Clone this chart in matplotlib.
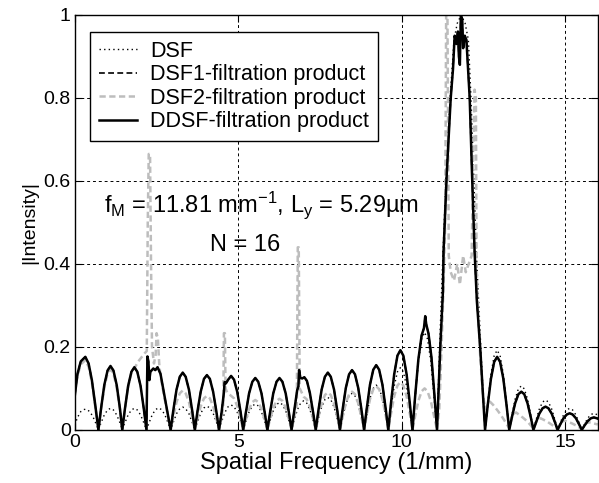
import matplotlib
matplotlib.use("Agg")
import matplotlib.pyplot as plt

plt.rcParams["font.family"] = ["Liberation Sans", "DejaVu Sans"]
plt.rcParams["mathtext.fontset"] = "custom"
plt.rcParams["mathtext.rm"] = "Liberation Sans"
plt.rcParams["mathtext.default"] = "regular"

# DDSF-filtration product (solid); DSF1 (dashed black) lies underneath it
ddsf_x = [0.00, 0.08, 0.18, 0.32, 0.42, 0.52, 0.62, 0.72,
          0.80, 0.90, 1.00, 1.09, 1.18, 1.28, 1.38, 1.45,
          1.53, 1.63, 1.73, 1.82, 1.91, 2.01, 2.11, 2.19,
          2.22, 2.25, 2.28, 2.31, 2.40, 2.46, 2.53, 2.62, 2.71, 2.83, 2.93,
          3.01, 3.11, 3.21, 3.30, 3.39, 3.49, 3.59, 3.67,
          3.75, 3.85, 3.95, 4.04, 4.13, 4.23, 4.33, 4.41,
          4.49, 4.56, 4.58, 4.62, 4.69, 4.78, 4.87, 4.97, 5.07, 5.15,
          5.23, 5.33, 5.43, 5.52, 5.61, 5.71, 5.81, 5.89,
          5.97, 6.07, 6.17, 6.26, 6.35, 6.45, 6.55, 6.63,
          6.71, 6.80, 6.84, 6.86, 6.90, 6.96, 7.02, 7.10, 7.19, 7.29, 7.37,
          7.45, 7.55, 7.65, 7.74, 7.83, 7.93, 8.03, 8.11,
          8.19, 8.29, 8.39, 8.48, 8.57, 8.67, 8.77, 8.85,
          8.93, 9.03, 9.13, 9.22, 9.31, 9.41, 9.51, 9.59,
          9.67, 9.77, 9.87, 9.96, 10.05, 10.15, 10.25, 10.33,
          10.41, 10.51, 10.61, 10.68, 10.72, 10.75, 10.82, 10.91, 11.00, 11.08,
          11.18, 11.26, 11.28, 11.38, 11.50, 11.57, 11.62, 11.68, 11.72, 11.75,
          11.78, 11.81, 11.85, 11.88, 11.93, 11.98, 12.08, 12.15, 12.23, 12.30,
          12.40, 12.55,
          12.63, 12.73, 12.83, 12.92, 13.01, 13.11, 13.21, 13.29,
          13.37, 13.47, 13.57, 13.66, 13.75, 13.85, 13.95, 14.03,
          14.11, 14.21, 14.31, 14.40, 14.49, 14.59, 14.69, 14.77,
          14.85, 14.95, 15.05, 15.14, 15.23, 15.33, 15.43, 15.51,
          15.59, 15.69, 15.79, 15.88, 15.97, 16.00]
ddsf_y = [0.084, 0.135, 0.165, 0.176, 0.160, 0.120, 0.062, 0.0,
          0.051, 0.108, 0.143, 0.154, 0.143, 0.108, 0.051, 0.0,
          0.050, 0.106, 0.140, 0.151, 0.140, 0.106, 0.050, 0.0,
          0.177, 0.165, 0.120, 0.140, 0.148, 0.144, 0.151, 0.135, 0.096, 0.045, 0.0,
          0.046, 0.097, 0.128, 0.138, 0.128, 0.097, 0.046, 0.0,
          0.044, 0.092, 0.123, 0.132, 0.123, 0.092, 0.044, 0.0,
          0.043, 0.090, 0.115, 0.112, 0.121, 0.130, 0.121, 0.091, 0.043, 0.0,
          0.041, 0.088, 0.116, 0.125, 0.116, 0.088, 0.041, 0.0,
          0.041, 0.088, 0.116, 0.125, 0.116, 0.088, 0.041, 0.0,
          0.045, 0.095, 0.105, 0.144, 0.125, 0.124, 0.127, 0.118, 0.089, 0.042, 0.0,
          0.046, 0.097, 0.128, 0.138, 0.128, 0.097, 0.046, 0.0,
          0.048, 0.101, 0.134, 0.144, 0.134, 0.101, 0.048, 0.0,
          0.051, 0.109, 0.145, 0.156, 0.145, 0.109, 0.051, 0.0,
          0.063, 0.134, 0.179, 0.192, 0.179, 0.134, 0.063, 0.0,
          0.080, 0.170, 0.228, 0.245, 0.274, 0.255, 0.232, 0.175, 0.085, 0.0,
          0.20, 0.33, 0.43, 0.62, 0.80, 0.87, 0.95, 0.93, 0.96, 0.90,
          0.88, 1.00, 0.99, 0.92, 0.95, 0.94, 0.80, 0.62, 0.43, 0.31,
          0.20, 0.0,
          0.058, 0.123, 0.164, 0.176, 0.164, 0.123, 0.058, 0.0,
          0.030, 0.064, 0.086, 0.092, 0.086, 0.064, 0.030, 0.0,
          0.018, 0.039, 0.052, 0.056, 0.052, 0.039, 0.018, 0.0,
          0.013, 0.028, 0.037, 0.040, 0.037, 0.028, 0.013, 0.0,
          0.010, 0.021, 0.028, 0.030, 0.028, 0.027]

# DSF (dotted)
dsf_x = [0.00, 0.08, 0.18, 0.28, 0.34, 0.44, 0.54, 0.64, 0.72,
         0.80, 0.90, 1.00, 1.09, 1.18, 1.28, 1.38, 1.45,
         1.53, 1.63, 1.73, 1.82, 1.91, 2.01, 2.11, 2.19,
         2.27, 2.37, 2.47, 2.56, 2.65, 2.75, 2.85, 2.93,
         3.01, 3.11, 3.21, 3.30, 3.39, 3.49, 3.59, 3.67,
         3.75, 3.85, 3.95, 4.04, 4.13, 4.23, 4.33, 4.41,
         4.49, 4.59, 4.69, 4.78, 4.87, 4.97, 5.07, 5.15,
         5.23, 5.33, 5.43, 5.52, 5.61, 5.71, 5.81, 5.89,
         5.97, 6.07, 6.17, 6.26, 6.35, 6.45, 6.55, 6.63,
         6.71, 6.81, 6.91, 7.00, 7.09, 7.19, 7.29, 7.37,
         7.45, 7.55, 7.65, 7.74, 7.83, 7.93, 8.03, 8.11,
         8.19, 8.29, 8.39, 8.48, 8.57, 8.67, 8.77, 8.85,
         8.93, 9.03, 9.13, 9.22, 9.31, 9.41, 9.51, 9.59,
         9.67, 9.77, 9.87, 9.96, 10.05, 10.15, 10.25, 10.33,
         10.41, 10.51, 10.61, 10.70, 10.79, 10.89, 10.99, 11.08,
         11.16, 11.25, 11.36, 11.48, 11.60, 11.70, 11.82, 11.94, 12.04, 12.12,
         12.20, 12.30, 12.42, 12.55,
         12.63, 12.73, 12.83, 12.92, 13.01, 13.11, 13.21, 13.29,
         13.37, 13.47, 13.57, 13.66, 13.75, 13.85, 13.95, 14.03,
         14.11, 14.21, 14.31, 14.40, 14.49, 14.59, 14.69, 14.77,
         14.85, 14.95, 15.05, 15.14, 15.23, 15.33, 15.43, 15.51,
         15.59, 15.69, 15.79, 15.88, 15.97, 16.00]
dsf_y = [0.012, 0.030, 0.044, 0.049, 0.050, 0.045, 0.034, 0.016, 0.0,
         0.017, 0.036, 0.048, 0.052, 0.048, 0.036, 0.017, 0.0,
         0.017, 0.036, 0.048, 0.052, 0.048, 0.036, 0.017, 0.0,
         0.017, 0.037, 0.049, 0.053, 0.049, 0.037, 0.017, 0.0,
         0.018, 0.039, 0.051, 0.055, 0.051, 0.039, 0.018, 0.0,
         0.019, 0.040, 0.053, 0.057, 0.053, 0.040, 0.019, 0.0,
         0.020, 0.042, 0.056, 0.060, 0.056, 0.042, 0.020, 0.0,
         0.020, 0.043, 0.058, 0.062, 0.058, 0.043, 0.020, 0.0,
         0.022, 0.046, 0.061, 0.066, 0.061, 0.046, 0.022, 0.0,
         0.023, 0.049, 0.065, 0.070, 0.065, 0.049, 0.023, 0.0,
         0.026, 0.055, 0.073, 0.078, 0.073, 0.055, 0.026, 0.0,
         0.029, 0.062, 0.082, 0.088, 0.082, 0.062, 0.029, 0.0,
         0.036, 0.076, 0.100, 0.108, 0.100, 0.076, 0.036, 0.0,
         0.050, 0.105, 0.140, 0.150, 0.140, 0.105, 0.050, 0.0,
         0.078, 0.165, 0.219, 0.235, 0.219, 0.165, 0.078, 0.0,
         0.20, 0.40, 0.62, 0.80, 0.94, 0.98, 1.00, 0.98, 0.94, 0.80,
         0.62, 0.40, 0.20, 0.0,
         0.063, 0.134, 0.179, 0.192, 0.179, 0.134, 0.063, 0.0,
         0.035, 0.074, 0.099, 0.106, 0.099, 0.074, 0.035, 0.0,
         0.024, 0.050, 0.067, 0.072, 0.067, 0.050, 0.024, 0.0,
         0.017, 0.036, 0.048, 0.052, 0.048, 0.036, 0.017, 0.0,
         0.013, 0.028, 0.037, 0.040, 0.037, 0.036]

# DSF2-filtration product (grey dashed)
dsf2_x = [0.00, 0.08, 0.18, 0.32, 0.42, 0.52, 0.62, 0.72,
          0.80, 0.90, 1.00, 1.09, 1.18, 1.28, 1.38, 1.45,
          1.53, 1.63, 1.73, 1.82, 1.94, 2.04, 2.14, 2.20, 2.23, 2.26, 2.30, 2.33, 2.36,
          2.42, 2.47, 2.50, 2.54, 2.58, 2.62, 2.71, 2.83, 2.93,
          3.01, 3.11, 3.21, 3.30, 3.39, 3.49, 3.59, 3.67,
          3.75, 3.85, 3.95, 4.04, 4.13, 4.23, 4.33, 4.41,
          4.49, 4.54, 4.56, 4.59, 4.61, 4.66, 4.78, 4.87, 4.97, 5.07, 5.15,
          5.23, 5.33, 5.43, 5.52, 5.61, 5.71, 5.81, 5.89,
          5.97, 6.07, 6.17, 6.26, 6.35, 6.45, 6.55, 6.63,
          6.71, 6.79, 6.82, 6.85, 6.88, 7.00, 7.09, 7.19, 7.29, 7.37,
          7.45, 7.55, 7.65, 7.74, 7.83, 7.93, 8.03, 8.11,
          8.19, 8.29, 8.39, 8.48, 8.57, 8.67, 8.77, 8.85,
          8.93, 9.03, 9.13, 9.22, 9.31, 9.41, 9.51, 9.59,
          9.67, 9.77, 9.87, 9.96, 10.05, 10.15, 10.25, 10.33,
          10.41, 10.51, 10.61, 10.70, 10.79, 10.89, 10.99, 11.08,
          11.15, 11.22, 11.28, 11.33, 11.35, 11.36, 11.40, 11.42, 11.44, 11.50,
          11.60, 11.70, 11.78, 11.88, 11.96, 12.05, 12.14, 12.20, 12.23, 12.27,
          12.29, 12.33, 12.40, 12.48, 12.55,
          12.62, 12.70, 12.80, 12.95, 13.10, 13.29,
          13.40, 13.50, 13.70, 13.85, 14.03,
          14.15, 14.25, 14.45, 14.60, 14.77,
          14.88, 15.00, 15.20, 15.35, 15.51,
          15.62, 15.75, 15.95, 16.00]
dsf2_y = [0.090, 0.130, 0.158, 0.168, 0.152, 0.114, 0.058, 0.0,
          0.048, 0.102, 0.136, 0.146, 0.136, 0.102, 0.048, 0.0,
          0.050, 0.104, 0.138, 0.148, 0.165, 0.175, 0.185, 0.190, 0.500, 0.665, 0.665, 0.400, 0.200,
          0.160, 0.180, 0.233, 0.220, 0.160, 0.130, 0.090, 0.040, 0.0,
          0.031, 0.067, 0.088, 0.095, 0.088, 0.067, 0.031, 0.0,
          0.027, 0.057, 0.076, 0.082, 0.076, 0.057, 0.027, 0.0,
          0.030, 0.060, 0.233, 0.233, 0.100, 0.090, 0.082, 0.076, 0.057, 0.027, 0.0,
          0.024, 0.050, 0.067, 0.072, 0.067, 0.050, 0.024, 0.0,
          0.025, 0.053, 0.070, 0.075, 0.070, 0.053, 0.025, 0.0,
          0.030, 0.060, 0.440, 0.440, 0.100, 0.080, 0.074, 0.056, 0.026, 0.0,
          0.030, 0.063, 0.084, 0.090, 0.084, 0.063, 0.030, 0.0,
          0.030, 0.064, 0.086, 0.092, 0.086, 0.064, 0.030, 0.0,
          0.035, 0.074, 0.098, 0.105, 0.098, 0.074, 0.035, 0.0,
          0.038, 0.081, 0.107, 0.115, 0.107, 0.081, 0.038, 0.0,
          0.033, 0.070, 0.093, 0.100, 0.093, 0.070, 0.033, 0.0,
          0.05, 0.20, 0.35, 0.50, 0.80, 1.00, 1.00, 0.70, 0.42, 0.38,
          0.36, 0.40, 0.35, 0.42, 0.38, 0.40, 0.42, 0.70, 0.82, 0.80,
          0.40, 0.30, 0.18, 0.09, 0.05,
          0.060, 0.068, 0.060, 0.045, 0.028, 0.004,
          0.038, 0.042, 0.030, 0.020, 0.003,
          0.025, 0.028, 0.020, 0.012, 0.002,
          0.020, 0.022, 0.016, 0.010, 0.002,
          0.016, 0.018, 0.014, 0.013]

fig = plt.figure(figsize=(5.99, 4.83), dpi=100)
ax = fig.add_axes([0.125, 0.110, 0.873, 0.859])

ax.plot(dsf_x, dsf_y, color="black", linestyle=(0, (1, 2.3)), linewidth=1.0, label="DSF")
ax.plot(ddsf_x, ddsf_y, color="black", linestyle=(0, (3.5, 2)), linewidth=1.2,
        label="DSF1-filtration product")
ax.plot(dsf2_x, dsf2_y, color="#bdbdbd", linestyle=(0, (2.5, 1.4)), linewidth=1.8,
        label="DSF2-filtration product")
ax.plot(ddsf_x, ddsf_y, color="black", linestyle="-", linewidth=1.8,
        label="DDSF-filtration product")

ax.set_xlim(0, 16)
ax.set_ylim(0, 1)
ax.set_xticks([0, 5, 10, 15])
ax.set_yticks([0, 0.2, 0.4, 0.6, 0.8, 1])
ax.set_yticklabels(["0", "0.2", "0.4", "0.6", "0.8", "1"])
ax.tick_params(direction="in", length=5, top=True, right=True, labelsize=14, pad=3)
ax.grid(True, color="black", linestyle=(0, (3, 3)), linewidth=0.7)
for s in ax.spines.values():
    s.set_linewidth(1.0)

ax.set_xlabel("Spatial Frequency (1/mm)", fontsize=17, labelpad=1)
ax.set_ylabel("|Intensity|", fontsize=14, labelpad=4)

ax.text(5.72, 0.524, "f$_M$ = 11.81 mm$^{-1}$, L$_y$ = 5.29\u00b5m", fontsize=17,
        ha="center", va="baseline")
ax.text(5.21, 0.432, "N = 16", fontsize=17, ha="center", va="baseline")

leg = ax.legend(loc="upper left", bbox_to_anchor=(0.029, 0.959), borderaxespad=0,
                fontsize=15.5, fancybox=False, framealpha=1, edgecolor="black",
                handlelength=1.8, handletextpad=0.6, labelspacing=0.12,
                borderpad=0.4)
leg.get_frame().set_linewidth(1.0)

fig.savefig("out.png", dpi=100)
